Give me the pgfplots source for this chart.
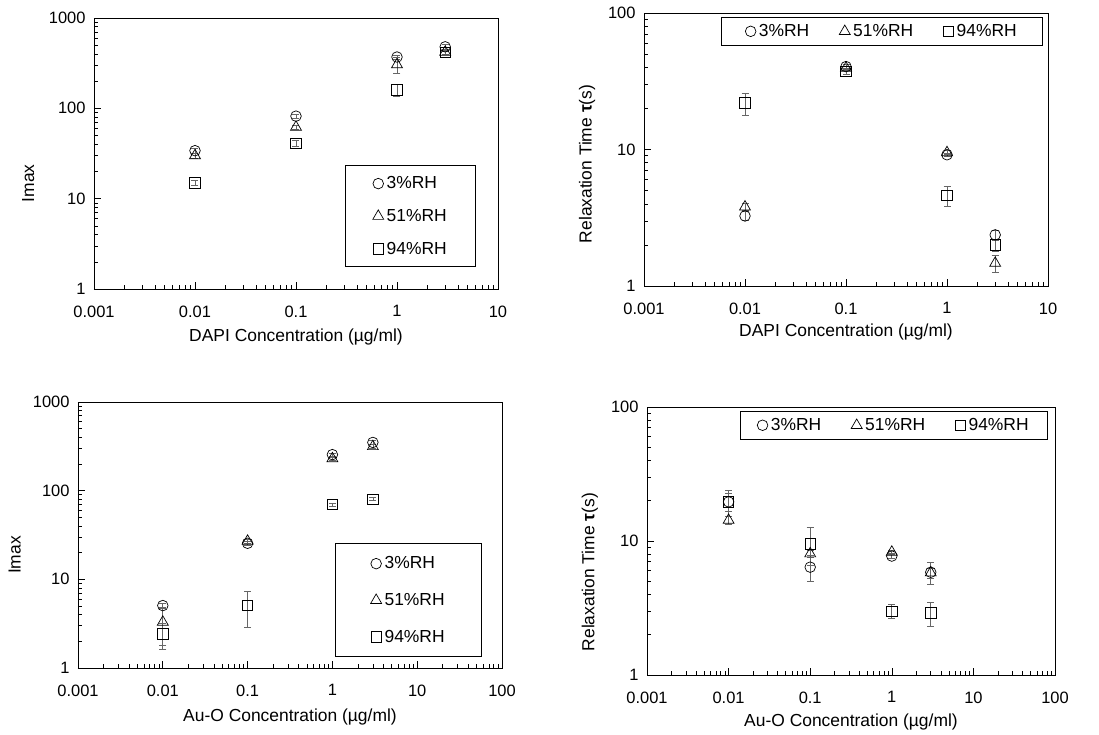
\documentclass[border=0pt]{standalone}
\usepackage{fontspec}
\setmainfont{Liberation Sans}
\usepackage{pgfplots}
\pgfplotsset{compat=1.18}

\pgfplotsset{
  every axis/.append style={
    scale only axis,
    axis line style={line width=0.8bp},
    tick align=inside, xtick pos=bottom, ytick pos=left,
    major tick length=7bp, minor tick length=4bp,
    tick style={black, line width=0.6bp},
    /pgf/number format/assume math mode=true,
    ticklabel style={font=\fontsize{16.5}{18}\selectfont},
    xticklabel style={yshift=-13bp},
    yticklabel style={xshift=-5bp},
    label style={font=\fontsize{17.5}{19}\selectfont},
    legend style={draw=black, line width=0.8bp, font=\fontsize{17.5}{19}\selectfont},
    legend cell align=left,
  },
  every axis plot/.append style={
    only marks, mark options={black, line width=0.7bp},
    error bars/y dir=both, error bars/y explicit,
    error bars/error bar style={line width=0.7bp, black!60},
    error bars/error mark options={rotate=90, mark size=3.5bp, line width=0.7bp, black!60},
  },
  hleg/.style={legend columns=3,
    legend style={inner xsep=24bp, inner ysep=5bp,
      /tikz/every even column/.append style={column sep=28bp},
      /tikz/every odd column/.append style={column sep=1bp}}},
  vleg/.style={legend style={/tikz/every odd column/.append style={column sep=1bp}}},
}
\pgfplotsset{legend image code/.code={\draw[#1] plot coordinates {(0bp,0bp)};}}

\begin{document}
\begin{tikzpicture}
\useasboundingbox (0bp,0bp) rectangle (1099bp,-735bp);

% DAPI Imax
\begin{loglogaxis}[at={(94bp,-289bp)}, anchor=south west,
  width=404bp, height=271bp,
  xmin=0.001, xmax=10, ymin=1, ymax=1000,
  xtick={0.001,0.01,0.1,1,10}, xticklabels={0.001,0.01,0.1,1,10},
  ytick={1,10,100,1000}, yticklabels={1,10,100,1000},
  xlabel={DAPI Concentration (µg/ml)}, ylabel={Imax},
  xlabel style={at={(axis description cs:0.5,-0.177)}, anchor=center},
  ylabel style={at={(axis description cs:-0.163,0.39)}, anchor=center},
  vleg,
  legend style={at={(0.946,0.081)}, anchor=south east, inner xsep=27bp, inner ysep=9bp, row sep=15bp},
]
\addplot+[mark=o, mark size=5.3bp] coordinates {(0.01,34) +- (0,2) (0.1,82) +- (0,4) (1,370) +- (0,20) (3,480) +- (0,25)};
\addplot+[mark=triangle, mark size=6.3bp] coordinates {(0.01,30) +- (0,2) (0.1,62) +- (0,3) (1,305) +- (0,60) (3,420) +- (0,20)};
\addplot+[mark=square, mark size=5.2bp] coordinates {(0.01,15) +- (0,1) (0.1,41) +- (0,3) (1,160) +- (0,25) (3,415) +- (0,15)};
\legend{3\%RH, 51\%RH, 94\%RH}
\end{loglogaxis}

% DAPI relaxation time
\begin{loglogaxis}[at={(644bp,-286bp)}, anchor=south west,
  width=404bp, height=273bp,
  xmin=0.001, xmax=10, ymin=1, ymax=100,
  xtick={0.001,0.01,0.1,1,10}, xticklabels={0.001,0.01,0.1,1,10},
  ytick={1,10,100}, yticklabels={1,10,100},
  xlabel={DAPI Concentration (µg/ml)}, ylabel={Relaxation Time \textbf{τ}(s)},
  xlabel style={at={(axis description cs:0.5,-0.168)}, anchor=center},
  ylabel style={at={(axis description cs:-0.141,0.447)}, anchor=center},
  hleg,
  legend style={at={(0.988,0.985)}, anchor=north east},
]
\addplot+[mark=o, mark size=5.3bp] coordinates {(0.01,3.26) +- (0,0.25) (0.1,40.5) +- (0,1.5) (1,9.15) +- (0,0.3) (3,2.37) +- (0,0.2)};
\addplot+[mark=triangle, mark size=6.3bp] coordinates {(0.01,3.8) +- (0,0.2) (0.1,39.5) +- (0,1.5) (1,9.5) +- (0,0.3) (3,1.47) +- (0,0.22)};
\addplot+[mark=square, mark size=5.2bp] coordinates {(0.01,21.9) +- (0,4) (0.1,37.3) +- (0,1.5) (1,4.6) +- (0,0.78) (3,2.0) +- (0,0.2)};
\legend{3\%RH, 51\%RH, 94\%RH}
\end{loglogaxis}

% Au-O Imax
\begin{loglogaxis}[at={(78bp,-668bp)}, anchor=south west,
  width=424bp, height=266bp,
  xmin=0.001, xmax=100, ymin=1, ymax=1000,
  xtick={0.001,0.01,0.1,1,10,100}, xticklabels={0.001,0.01,0.1,1,10,100},
  ytick={1,10,100,1000}, yticklabels={1,10,100,1000},
  xlabel={Au-O Concentration (µg/ml)}, ylabel={Imax},
  xlabel style={at={(axis description cs:0.5,-0.184)}, anchor=center},
  ylabel style={at={(axis description cs:-0.149,0.425)}, anchor=center},
  vleg,
  legend style={at={(0.953,0.041)}, anchor=south east, inner xsep=35bp, inner ysep=11bp, row sep=19bp},
]
\addplot+[mark=o, mark size=5.3bp] coordinates {(0.01,5.06) +- (0,0.3) (0.1,25.5) +- (0,1.5) (1,255) +- (0,12) (3,350) +- (0,20)};
\addplot+[mark=triangle, mark size=6.3bp] coordinates {(0.01,3.3) +- (0,1.5) (0.1,27) +- (0,1.5) (1,230) +- (0,10) (3,315) +- (0,15)};
\addplot+[mark=square, mark size=5.2bp] coordinates {(0.01,2.43) +- (0,0.8) (0.1,5.06) +- (0,2.2) (1,69.6) +- (0,3) (3,80) +- (0,3)};
\legend{3\%RH, 51\%RH, 94\%RH}
\end{loglogaxis}

% Au-O relaxation time
\begin{loglogaxis}[at={(647bp,-675bp)}, anchor=south west,
  width=408bp, height=268bp,
  xmin=0.001, xmax=100, ymin=1, ymax=100,
  xtick={0.001,0.01,0.1,1,10,100}, xticklabels={0.001,0.01,0.1,1,10,100},
  ytick={1,10,100}, yticklabels={1,10,100},
  xlabel={Au-O Concentration (µg/ml)}, ylabel={Relaxation Time \textbf{τ}(s)},
  xlabel style={at={(axis description cs:0.5,-0.175)}, anchor=center},
  ylabel style={at={(axis description cs:-0.14,0.384)}, anchor=center},
  hleg,
  legend style={at={(0.983,0.985)}, anchor=north east, inner xsep=17bp},
]
\addplot+[mark=o, mark size=5.3bp] coordinates {(0.01,19.6) +- (0,4.4) (0.1,6.38) +- (0,1.4) (1,7.72) +- (0,0.3) (3,5.85) +- (0,1.1)};
\addplot+[mark=triangle, mark size=6.3bp] coordinates {(0.01,14.3) +- (0,1) (0.1,8.04) +- (0,0.5) (1,8.27) +- (0,0.3) (3,5.8) +- (0,0.5)};
\addplot+[mark=square, mark size=5.2bp] coordinates {(0.01,19.6) +- (0,3) (0.1,9.55) +- (0,3) (1,2.99) +- (0,0.35) (3,2.9) +- (0,0.6)};
\legend{3\%RH, 51\%RH, 94\%RH}
\end{loglogaxis}
\end{tikzpicture}
\end{document}
